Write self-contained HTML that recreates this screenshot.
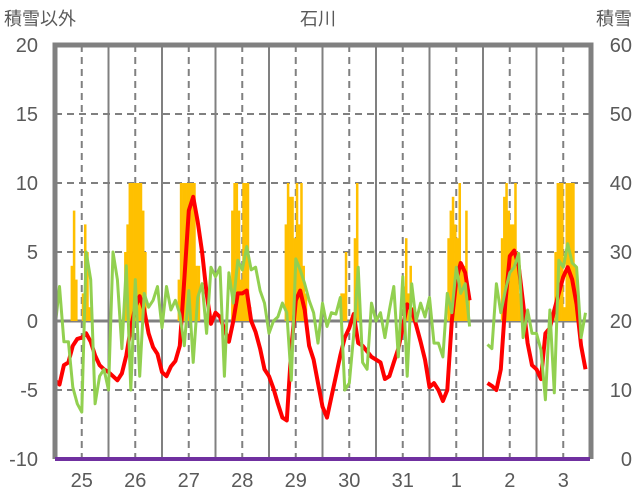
<!DOCTYPE html>
<html><head><meta charset="utf-8"><style>
html,body{margin:0;padding:0;background:#fff;}
svg{display:block;font-family:"Liberation Sans","Noto Sans CJK JP",sans-serif;}
</style></head><body>
<svg id="chart" width="636" height="501" viewBox="0 0 636 501" xmlns="http://www.w3.org/2000/svg">
<text x="4" y="25" font-size="18" fill="#595959">積雪以外</text>
<text x="318" y="25" font-size="18" fill="#595959" text-anchor="middle">石川</text>
<text x="632" y="25" font-size="18" fill="#595959" text-anchor="end">積雪</text>
<g id="grid"></g><g id="bars"></g><g id="lines"></g><g id="frame"></g><g id="labels"></g>
</svg>
<script>
const days=["25","26","27","28","29","30","31","1","2","3"];
const leftTicks=[20,15,10,5,0,-5,-10];
const rightTicks=[60,50,40,30,20,10,0];
const tempRed=[
-4.3,-4.6,-3.2,-3,-1.8,-1.3,-1.2,-0.9,-1.5,-2.5,-3.2,-3.5,
-3.7,-4,-4.3,-3.8,-2.5,-0.5,1.0,1.8,0.8,-0.9,-1.9,-2.4,
-3.7,-4,-3.3,-2.9,-1.8,3,8,9,7.2,5,2,-0.2,
0.6,0.3,-0.6,-1.5,0,2,2,2.2,0,-0.8,-2,-3.5,
-4,-4.9,-6,-7,-7.2,-2,1.5,2.2,0.8,-1.8,-2.8,-4.5,
-6.2,-7,-5.5,-4,-2.5,-1.2,-0.5,0.5,-1.6,-1.8,-2.2,-2.6,
-2.8,-3,-4.2,-4,-3,-2,-0.5,1.2,0.8,-0.3,-1.5,-2.8,
-4.8,-4.5,-5,-5.8,-5,0,3,4.2,3.5,1.5,null,null,
null,-4.5,-4.7,-5,-3.5,1.3,4.7,5.1,4,1.3,-1.6,-3.2,
-3.5,-4.2,-0.9,-0.5,0.8,2,3.2,3.9,3,1.2,-1.8,-3.5];
const seriesGreen=[
-0.5,2.5,-1.5,-1.5,-4.8,-6,-6.6,5,3,-6,-4,-3.5,
-5,5,3,-2,4,-5,3,-4,2,1,1.5,2.5,
-0.5,2.5,0.8,1.5,0.5,-1.8,2.2,-3,1.7,2.7,-0.9,3.9,
3.2,3.9,-4,3.5,1.3,4.4,3.7,5.4,3.7,3.9,2.2,1.3,
-0.9,0,0.3,1.3,0.6,-4.3,4.5,3.7,2.7,1.5,0.6,-1.6,
1.3,-0.4,0.6,0.5,1.7,-5,-4.5,-1,3.9,-3,-3.5,1.3,
0,0.6,-1.2,0.8,2.5,-2.6,3.2,-4,2.7,0,1.3,0.3,
1.7,-1.6,-1.6,-2.6,2,0.6,3.9,2,2.7,-0.4,null,null,
null,-1.7,-2,2.7,0.6,2.2,3.5,3.9,4.9,-1.2,0.8,-0.9,
-0.9,-2.1,-5.7,0.8,-5.2,4.4,3.9,5.6,4.2,3.9,-1.2,0.6];
// hourly bars: [dayIndex, hour, value]
const barDay=[0,0,0,0,0,0,0, 1,1,1,1,1,1,1,1,1,1, 2,2,2,2,2,2,2,2,2,2, 3,3,3,3,3,3,3,3,3, 4,4,4,4,4,4,4,4,4,4, 5,5,5,5,5,5, 6,6,6,6,6, 7,7,7,7,7,7,7,7,7,7, 8,8,8,8,8,8,8,8,8, 9,9,9,9,9,9,9,9,9,9];
const barHour=[7,8,9,12,13,14,15, 7,8,9,10,11,12,13,14,15,16, 7,8,9,10,11,12,13,14,15,16, 7,8,9,10,11,12,13,14,15, 7,8,9,10,11,12,13,14,15,16, 8,9,10,14,15,16, 12,13,14,15,16, 8,9,10,11,12,13,14,15,16,17, 8,9,10,11,12,13,14,15,16, 8,9,10,11,12,13,14,15,16,17];
const barVal=[4,8,3,2,7,5,1, 5,7,10,10,10,10,10,10,8,5, 3,10,10,10,10,10,10,10,4,4, 8,10,10,8,3,10,10,10,1, 7,10,9,9,6,10,7,10,4,2, 2,2,5,6,10,2, 2.5,6,2,4,1, 6,8,9,7,6,10,4,4,8,2, 6,9,10,8,7,7,10,5,2, 5,10,10,10,1,10,10,10,10,4];
const snowDepth=[0,0,0,0,0,0,0,0,0,0];

const NS="http://www.w3.org/2000/svg";
const X0=55,X1=590,DW=(X1-X0)/10;
const yL=v=>321-v*13.8;
const yR=v=>459-v*6.9;
const xH=h=>X0+h*DW/24;
function mk(tag,attrs,parent){const e=document.createElementNS(NS,tag);for(const k in attrs)e.setAttribute(k,attrs[k]);parent.appendChild(e);return e;}
const grid=document.getElementById('grid'),bars=document.getElementById('bars'),lines=document.getElementById('lines'),frame=document.getElementById('frame'),labels=document.getElementById('labels');
leftTicks.forEach(t=>{
  if(t!==20&&t!==-10&&t!==0){const l=mk('line',{x1:X0,x2:X1,y1:yL(t),y2:yL(t),stroke:'#808080','stroke-width':2,'stroke-dasharray':'7,5'},grid);
  
  }
  const tx=mk('text',{x:38,y:yL(t)+7,'font-size':20,fill:'#595959','text-anchor':'end'},labels);tx.textContent=t;
  
  
});
rightTicks.forEach(t=>{
  const tx=mk('text',{x:632,y:yR(t)+7,'font-size':20,fill:'#595959','text-anchor':'end'},labels);tx.textContent=t;
  
  
});
days.forEach((d,i)=>{
  const xm=X0+(i+0.5)*DW;
  const dl=mk('line',{x1:xm,x2:xm,y1:45,y2:459,stroke:'#808080','stroke-width':2,'stroke-dasharray':'7,5'},grid);
  
  
  if(i>0){const sl=mk('line',{x1:X0+i*DW,x2:X0+i*DW,y1:45,y2:459,stroke:'#808080','stroke-width':2},grid);
  
  }
  const tx=mk('text',{x:xm,y:487,'font-size':20,fill:'#595959','text-anchor':'middle'},labels);tx.textContent=d;
  
  
});
barVal.forEach((v,i)=>{
  const h=barDay[i]*24+barHour[i];
  const r=mk('rect',{x:xH(h),y:yL(v),width:DW/24+0.3,height:yL(0)-yL(v),fill:'#ffc000'},bars);
  
  
});
const zl=mk('line',{x1:X0,x2:X1,y1:yL(0),y2:yL(0),stroke:'#808080','stroke-width':3},grid);


function pathOf(arr){let d='',pen=false;arr.forEach((v,i)=>{if(v===null){pen=false;return;}const x=xH(i*2),y=yL(v);d+=(pen?'L':'M')+x.toFixed(1)+' '+y.toFixed(1);pen=true;});return d;}
const red=mk('path',{d:pathOf(tempRed),fill:'none',stroke:'#ff0000','stroke-width':4,'stroke-linejoin':'round'},lines);


const grn=mk('path',{d:pathOf(seriesGreen),fill:'none',stroke:'#92d050','stroke-width':3,'stroke-linejoin':'round'},lines);


const fr=mk('path',{d:`M${X0} 459 L${X0} 45 L${X1+1} 45 L${X1+1} 459`,fill:'none',stroke:'#808080','stroke-width':5},frame);


const sd=mk('path',{d:snowDepth.map((v,i)=>(i?'L':'M')+(X0+i*DW)+' '+yR(v)).join('')+'L'+X1+' '+yR(snowDepth[9]),fill:'none',stroke:'#7030a0','stroke-width':4},frame);


</script>
</body></html>
